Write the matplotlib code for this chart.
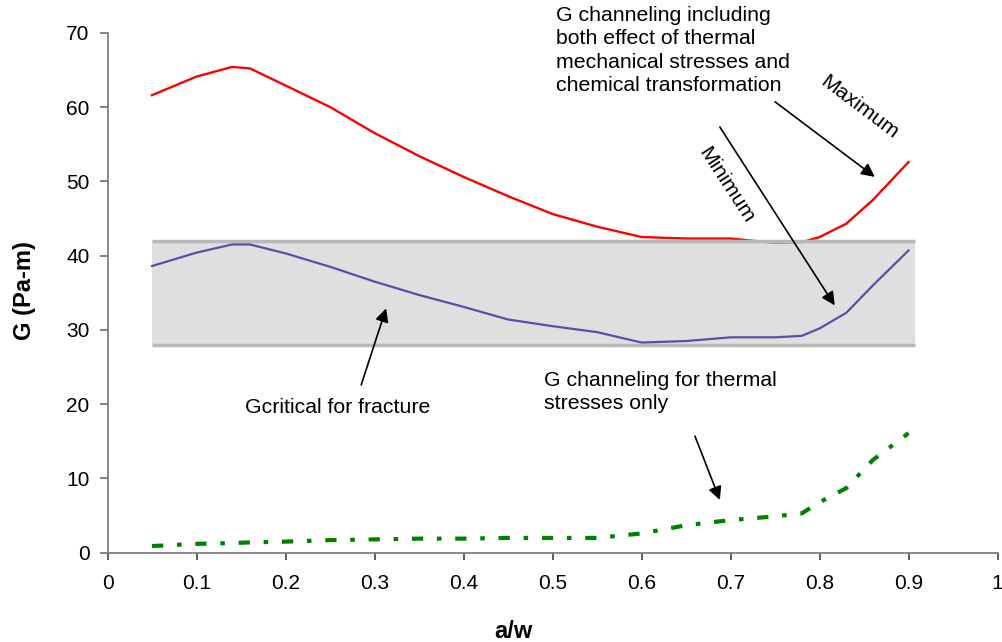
import matplotlib
matplotlib.use("Agg")
import matplotlib.pyplot as plt

plt.rcParams["font.family"] = ["Liberation Sans", "DejaVu Sans"]

# a/w positions sampled along the curves
a_w = [0.05, 0.10, 0.14, 0.16, 0.20, 0.25, 0.30, 0.35, 0.40, 0.45, 0.50,
       0.55, 0.60, 0.65, 0.70, 0.75, 0.78, 0.80, 0.83, 0.86, 0.90]

g_max = [61.6, 64.1, 65.4, 65.2, 62.9, 60.0, 56.5, 53.4, 50.6, 48.0, 45.6,
         43.9, 42.5, 42.3, 42.3, 41.7, 41.8, 42.5, 44.3, 47.5, 52.6]
g_min = [38.6, 40.4, 41.5, 41.5, 40.3, 38.5, 36.5, 34.7, 33.1, 31.4, 30.5,
         29.7, 28.3, 28.5, 29.0, 29.0, 29.2, 30.2, 32.3, 36.0, 40.7]
g_thermal = [0.9, 1.2, 1.3, 1.4, 1.5, 1.7, 1.8, 1.9, 1.9, 2.0, 2.0,
             2.0, 2.6, 3.7, 4.4, 4.9, 5.3, 6.8, 8.7, 12.5, 16.1]

g_crit_low, g_crit_high = 27.9, 42.0
band_x = [0.05, 0.907]

x_ticks = [0, 0.1, 0.2, 0.3, 0.4, 0.5, 0.6, 0.7, 0.8, 0.9, 1]
x_labels = ["0", "0.1", "0.2", "0.3", "0.4", "0.5", "0.6", "0.7", "0.8", "0.9", "1"]
y_ticks = [0, 10, 20, 30, 40, 50, 60, 70]

fig = plt.figure(figsize=(10.03, 6.42), dpi=100)
ax = fig.add_axes([0.1072, 0.139, 0.8874, 0.810])

ax.plot(a_w, g_max, color="#ff0000", lw=1.7, zorder=1)
ax.fill_between(band_x, g_crit_low, g_crit_high, color="#cbcbcb",
                alpha=0.6, lw=0, zorder=2)
ax.hlines([g_crit_low, g_crit_high], band_x[0], band_x[1], color="#b8b8b8",
          lw=2.5, zorder=2)
ax.plot(a_w, g_min, color="#5252a6", lw=1.6, zorder=3)
ax.plot(a_w, g_thermal, color="#008000", lw=3,
        linestyle=(0, (2.7, 3.3, 1.1, 3.3)), zorder=3)

ax.set_xlim(0, 1)
ax.set_ylim(0, 70)
ax.set_xticks(x_ticks)
ax.set_xticklabels(x_labels)
ax.set_yticks(y_ticks)
for side in ("top", "right"):
    ax.spines[side].set_visible(False)
for side in ("left", "bottom"):
    ax.spines[side].set_color("#808080")
    ax.spines[side].set_linewidth(1.3)
ax.tick_params(axis="y", length=6, width=1.1, color="#606060", pad=7,
               labelsize=15)
ax.tick_params(axis="x", length=5, width=1.1, color="#303030", pad=10,
               labelsize=15)

fig.text(0.512, 0.006, "a/w", fontsize=17, fontweight="bold", ha="center",
         va="baseline")
fig.text(0.024, 0.548, "G (Pa-m)", fontsize=17, fontweight="bold",
         rotation=90, ha="center", va="center")

ax.text(0.504, 73.6, "G channeling including\nboth effect of thermal\n"
        "mechanical stresses and\nchemical transformation",
        fontsize=15.3, ha="left", va="top", linespacing=1.3)
ax.text(0.845, 60.0, "Maximum", fontsize=15.3, rotation=-37,
        ha="center", va="center", rotation_mode="anchor")
ax.text(0.695, 49.5, "Minimum", fontsize=15.3, rotation=-57,
        ha="center", va="center", rotation_mode="anchor")
ax.text(0.154, 19.5, "Gcritical for fracture", fontsize=15.3,
        ha="left", va="center")
ax.text(0.490, 24.5, "G channeling for thermal\nstresses only", fontsize=15.3,
        ha="left", va="top", linespacing=1.3)

arrow = dict(arrowstyle="-|>", color="black", lw=1.2, mutation_scale=20,
             shrinkA=0, shrinkB=0)
ax.annotate("", xy=(0.862, 50.6), xytext=(0.750, 60.7), arrowprops=arrow)
ax.annotate("", xy=(0.817, 33.3), xytext=(0.688, 57.3), arrowprops=arrow)
ax.annotate("", xy=(0.313, 32.9), xytext=(0.285, 22.6), arrowprops=arrow)
ax.annotate("", xy=(0.688, 7.1), xytext=(0.660, 15.7), arrowprops=arrow)

fig.savefig("out.png", dpi=100)
